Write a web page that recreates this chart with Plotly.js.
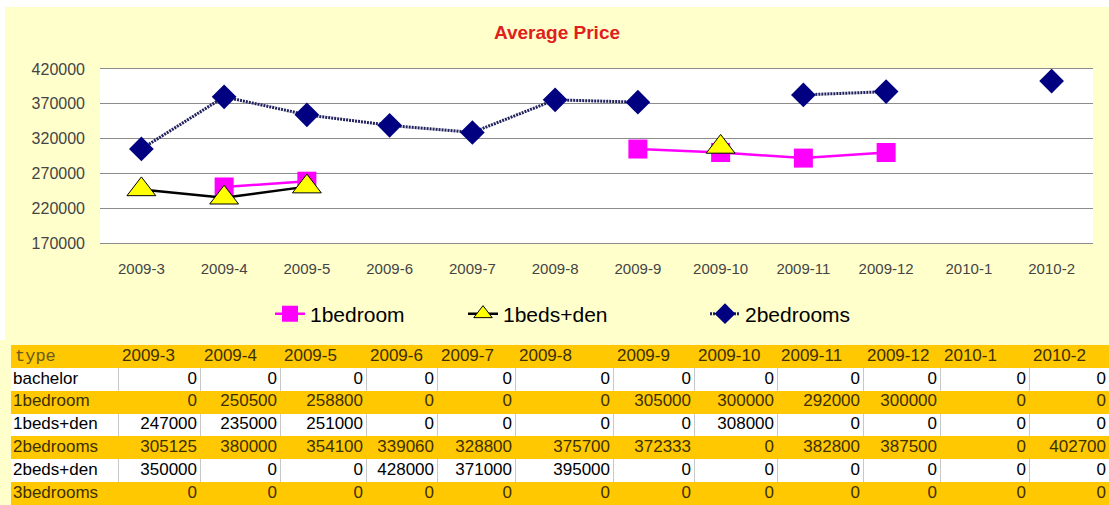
<!DOCTYPE html>
<html>
<head>
<meta charset="utf-8">
<script src="https://cdn.plot.ly/plotly-3.0.1.min.js"></script>
<style>
html,body{margin:0;padding:0;background:#fff;overflow:hidden}
#chart{width:1109px;height:505px}
</style>
</head>
<body>
<div id="chart"></div>
<script>
// ---------------- data ----------------
const months = ['2009-3','2009-4','2009-5','2009-6','2009-7','2009-8','2009-9','2009-10','2009-11','2009-12','2010-1','2010-2'];
const rowTypes = ['bachelor','1bedroom','1beds+den','2bedrooms','2beds+den','3bedrooms'];
const headerLabel = 'type';
const bachelor      = [0,0,0,0,0,0,0,0,0,0,0,0];
const oneBedroom    = [0,250500,258800,0,0,0,305000,300000,292000,300000,0,0];
const oneBedsDen    = [247000,235000,251000,0,0,0,0,308000,0,0,0,0];
const twoBedrooms   = [305125,380000,354100,339060,328800,375700,372333,0,382800,387500,0,402700];
const twoBedsDen    = [350000,0,0,428000,371000,395000,0,0,0,0,0,0];
const threeBedrooms = [0,0,0,0,0,0,0,0,0,0,0,0];
const tableRows = [bachelor, oneBedroom, oneBedsDen, twoBedrooms, twoBedsDen, threeBedrooms];
const chartTitle = 'Average Price';

// ---------------- layout constants ----------------
const W = 1109, H = 505;
const px = v => v / W;
const py = v => 1 - v / H;
const ORANGE = '#ffc800';
const FONT = 'Liberation Sans, Arial, sans-serif';
const colWidths = [107, 82, 80, 86, 71, 78, 98, 81, 83, 86, 77, 89, 80];
const shadedRow = [false, true, false, true, false, true];
const edges = [0];
colWidths.forEach(w => edges.push(edges[edges.length - 1] + w));
const totalW = edges[edges.length - 1];

// zero in the sheet = no value in the chart (gap)
const gap = arr => arr.map(v => (v === 0 ? null : v));

// ---------------- chart traces ----------------
const traces = [
  {type:'scatter', mode:'lines+markers', name:'1bedroom', x:months, y:gap(oneBedroom),
   line:{color:'#ff00ff', width:2.5}, marker:{symbol:'square', size:19, color:'#ff00ff'},
   legend:'legend', hoverinfo:'x+y'},
  {type:'scatter', mode:'lines+markers', name:'1beds+den', x:months, y:gap(oneBedsDen),
   line:{color:'#000000', width:2.5}, marker:{symbol:'triangle-up', size:25, color:'#ffff00', line:{color:'#000', width:1}},
   legend:'legend2', hoverinfo:'x+y'},
  {type:'scatter', mode:'lines+markers', name:'2bedrooms', x:months, y:gap(twoBedrooms),
   line:{color:'#22225e', width:3, dash:'2px,1px'}, marker:{symbol:'diamond', size:19, color:'#000080'},
   legend:'legend3', hoverinfo:'x+y'}
];

// ---------------- table (heatmap fills + text) ----------------
const rowCats = [headerLabel].concat(rowTypes);
const fillZ = rowCats.map((r, i) => colWidths.map(() => (i === 0 || shadedRow[i - 1]) ? 1 : null));
traces.push({type:'heatmap', x:edges, y:rowCats, z:fillZ, xaxis:'x2', yaxis:'y2',
  colorscale:[[0, ORANGE],[1, ORANGE]], zmin:0, zmax:1, showscale:false, hoverinfo:'skip', showlegend:false});

// header labels
const headerTexts = [headerLabel].concat(months);
traces.push({type:'scatter', mode:'text', xaxis:'x2', yaxis:'y2', showlegend:false, hoverinfo:'skip',
  x: edges.slice(0, -1).map(e => e + 4), y: headerTexts.map(() => headerLabel), text: headerTexts,
  textposition:'middle right',
  textfont:{family: headerTexts.map((t, i) => i === 0 ? 'Liberation Mono, Courier New, monospace' : FONT),
            size:17, color: headerTexts.map((t, i) => i === 0 ? '#6b5a20' : '#3d3000')}});

// row labels
traces.push({type:'scatter', mode:'text', xaxis:'x2', yaxis:'y2', showlegend:false, hoverinfo:'skip',
  x: rowTypes.map(() => 2), y: rowTypes, text: rowTypes, textposition:'middle right',
  textfont:{family:FONT, size:17, color: rowTypes.map((r, i) => shadedRow[i] ? '#3d3000' : '#000')}});

// values
const vx = [], vy = [], vt = [], vc = [];
tableRows.forEach((row, i) => {
  row.forEach((v, j) => {
    vx.push(edges[j + 2] - 3);
    vy.push(rowTypes[i]);
    vt.push(String(v));
    vc.push(shadedRow[i] ? '#3d3000' : '#000');
  });
});
traces.push({type:'scatter', mode:'text', xaxis:'x2', yaxis:'y2', showlegend:false, hoverinfo:'skip',
  x: vx, y: vy, text: vt, textposition:'middle left', textfont:{family:FONT, size:17, color:vc}});

// ---------------- layout ----------------
const legendBase = {orientation:'h', xanchor:'left', yanchor:'middle', y:py(314),
  bgcolor:'rgba(0,0,0,0)', font:{family:FONT, size:21, color:'#000'}};

const layout = {
  width:W, height:H, autosize:false,
  margin:{l:0, r:0, t:0, b:0, pad:0},
  paper_bgcolor:'#ffffcc', plot_bgcolor:'#ffffff',
  showlegend:true,
  title:{text:chartTitle, x:px(557), xanchor:'center', y:py(32), yanchor:'middle', xref:'paper', yref:'paper',
         font:{family:FONT, size:19, color:'#e0201c', weight:'bold'}},
  xaxis:{domain:[px(100), px(1093)], type:'category', categoryorder:'array', categoryarray:months,
         range:[-0.5, 11.5], showgrid:false, showline:true, mirror:true, linecolor:'#8c8c8c', linewidth:1,
         ticks:'', ticklabelstandoff:12, tickfont:{family:FONT, size:15, color:'#444'}, anchor:'y', fixedrange:true},
  yaxis:{domain:[py(243), py(69)], range:[170000, 420000], tick0:170000, dtick:50000, tickformat:'d',
         showgrid:true, gridcolor:'#8c8c8c', gridwidth:1, zeroline:false, showline:false, ticks:'',
         ticklabelstandoff:14, tickfont:{family:FONT, size:16, color:'#444'}, anchor:'x', fixedrange:true},
  xaxis2:{domain:[px(11), 1], range:[0, totalW], showticklabels:false, showgrid:true, gridcolor:'#c8c8c8',
          gridwidth:1, tickmode:'array', tickvals:edges.slice(1, -1), zeroline:false, showline:false, ticks:'',
          anchor:'y2', fixedrange:true},
  yaxis2:{domain:[0, py(345)], type:'category', categoryorder:'array', categoryarray:rowCats,
          range:[rowCats.length - 0.5, -0.5], showgrid:false, showticklabels:false, zeroline:false,
          showline:false, ticks:'', anchor:'x2', fixedrange:true},
  legend:Object.assign({}, legendBase, {x:px(270)}),
  legend2:Object.assign({}, legendBase, {x:px(463)}),
  legend3:Object.assign({}, legendBase, {x:px(705)}),
  shapes:[
    {type:'rect', xref:'paper', yref:'paper', x0:0, x1:1, y0:py(7), y1:1, fillcolor:'#ffffff', line:{width:0}, layer:'below'},
    {type:'rect', xref:'paper', yref:'paper', x0:0, x1:px(5), y0:py(340), y1:1, fillcolor:'#ffffff', line:{width:0}, layer:'below'}
  ]
};

Plotly.newPlot('chart', traces, layout, {displayModeBar:false, staticPlot:true});
</script>
</body>
</html>
